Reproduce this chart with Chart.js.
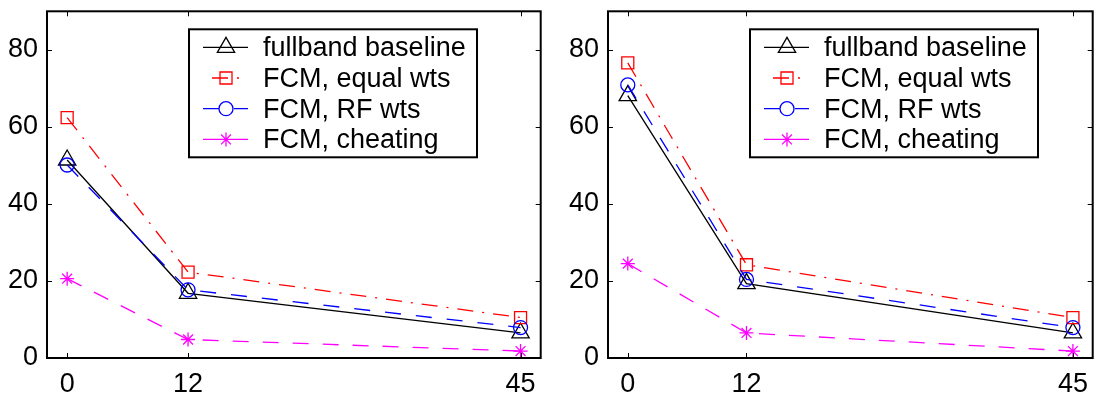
<!DOCTYPE html>
<html>
<head>
<meta charset="utf-8">
<script src="https://cdn.jsdelivr.net/npm/chart.js@4.4.1/dist/chart.umd.min.js"></script>
<style>
  html, body { margin: 0; padding: 0; background: #fff; }
  #wrap { position: relative; width: 1104px; height: 394px; }
  .panel { position: absolute; top: 0; width: 552px; height: 394px; }
</style>
</head>
<body>
<div id="wrap">
  <div class="panel" style="left:0"><canvas id="leftChart" width="552" height="394"></canvas></div>
  <div class="panel" style="left:552px"><canvas id="rightChart" width="552" height="394"></canvas></div>
</div>
<script>
// x positions and tick labels
const delays = [0, 12, 45];
const xTicks = [0, 12, 45];
const yTicks = [0, 20, 40, 60, 80];

const seriesNames = ['fullband baseline', 'FCM, equal wts', 'FCM, RF wts', 'FCM, cheating'];

// left panel
const leftBaseline = [51.4, 16.8, 6.5];
const leftEqual = [62.4, 22.3, 10.5];
const leftRF = [50.1, 17.7, 7.9];
const leftCheat = [20.6, 4.8, 1.8];

// right panel
const rightBaseline = [68.1, 19.3, 6.5];
const rightEqual = [76.6, 24.2, 10.5];
const rightRF = [70.9, 20.4, 7.9];
const rightCheat = [24.5, 6.5, 1.8];

const styles = [
  { color: '#000000', dash: [], point: 'triangle', r: 10, order: 4 },
  { color: '#ff0000', dash: [16, 9, 2, 9], point: 'rect', r: 8.5, order: 3 },
  { color: '#0000ff', dash: [16, 15], point: 'circle', r: 7, order: 2 },
  { color: '#ff00ff', dash: [16, 14], point: 'star', r: 7, order: 1 }
];

const tickFont = { family: '"Liberation Sans", Arial, sans-serif', size: 27 };

// box round the axes, ticks pointing inward on all four sides
const matlabAxes = {
  id: 'matlabAxes',
  afterDatasetsDraw(chart) {
    const { ctx, chartArea: a, scales: { x, y } } = chart;
    ctx.save();
    ctx.strokeStyle = '#000';
    ctx.lineWidth = 1;
    ctx.beginPath();
    x.ticks.forEach(t => {
      const px = Math.round(x.getPixelForValue(t.value)) + 0.5;
      ctx.moveTo(px, a.bottom); ctx.lineTo(px, a.bottom - 5);
      ctx.moveTo(px, a.top); ctx.lineTo(px, a.top + 5);
    });
    y.ticks.forEach(t => {
      const py = Math.round(y.getPixelForValue(t.value)) + 0.5;
      ctx.moveTo(a.left, py); ctx.lineTo(a.left + 5, py);
      ctx.moveTo(a.right, py); ctx.lineTo(a.right - 5, py);
    });
    ctx.stroke();
    ctx.lineWidth = 2;
    ctx.strokeRect(a.left, a.top, a.right - a.left, a.bottom - a.top);
    ctx.restore();
  }
};

// matlab style legend: line sample with marker in the middle
const legendBox = {
  id: 'legendBox',
  afterDraw(chart, args, opts) {
    const { ctx, chartArea } = chart;
    const x0 = chartArea.left + opts.left;
    const y0 = chartArea.top + opts.top;
    ctx.save();
    ctx.fillStyle = '#fff';
    ctx.fillRect(x0, y0, opts.width, opts.height);
    ctx.lineWidth = 2;
    ctx.strokeStyle = '#000';
    ctx.strokeRect(x0, y0, opts.width, opts.height);
    ctx.font = '27px "Liberation Sans", Arial, sans-serif';
    ctx.textBaseline = 'alphabetic';
    chart.data.datasets.forEach((ds, i) => {
      const y = y0 + 18 + i * 30.7;
      ctx.strokeStyle = ds.borderColor;
      ctx.lineWidth = ds.borderWidth;
      ctx.setLineDash(ds.borderDash);
      ctx.lineDashOffset = ds.borderDash.length > 2 ? 27 : 0;
      ctx.beginPath();
      ctx.moveTo(x0 + 14, y);
      ctx.lineTo(x0 + 59, y);
      ctx.stroke();
      ctx.setLineDash([]);
      ctx.lineDashOffset = 0;
      ctx.fillStyle = 'rgba(0,0,0,0)';
      Chart.helpers.drawPoint(ctx, {
        pointStyle: ds.pointStyle, radius: ds.pointRadius, rotation: 0, borderWidth: ds.pointBorderWidth
      }, x0 + 37, y);
      ctx.fillStyle = '#000';
      ctx.fillText(ds.label, x0 + 74, y + 9);
    });
    ctx.restore();
  }
};

function makeChart(id, series, yWidth, padRight) {
  return new Chart(document.getElementById(id), {
    type: 'line',
    data: {
      datasets: series.map((vals, i) => ({
        label: seriesNames[i],
        data: delays.map((d, j) => ({ x: d, y: vals[j] })),
        borderColor: styles[i].color,
        borderWidth: 1.3,
        borderDash: styles[i].dash,
        pointStyle: styles[i].point,
        pointRadius: styles[i].r,
        pointBorderWidth: 1.3,
        pointBorderColor: styles[i].color,
        pointBackgroundColor: 'rgba(0,0,0,0)',
        tension: 0,
        fill: false,
        clip: false,
        order: styles[i].order
      }))
    },
    options: {
      responsive: false,
      animation: false,
      layout: { padding: { top: 11, right: padRight, left: 0, bottom: 0 } },
      plugins: {
        legend: { display: false },
        tooltip: { enabled: false },
        legendBox: { left: 142, top: 18, width: 288, height: 128 }
      },
      scales: {
        x: {
          type: 'linear',
          min: -2,
          max: 47,
          grid: { display: false, drawTicks: false },
          border: { display: false },
          ticks: { font: tickFont, color: '#000', padding: 10, maxRotation: 0, autoSkip: false },
          afterBuildTicks: s => { s.ticks = xTicks.map(v => ({ value: v })); },
          afterFit: s => { s.height = 36; s.paddingLeft = 0; s.paddingRight = 0; }
        },
        y: {
          type: 'linear',
          min: 0,
          max: 90,
          grid: { display: false, drawTicks: false },
          border: { display: false },
          ticks: { font: tickFont, color: '#000', padding: 9 },
          afterBuildTicks: s => { s.ticks = yTicks.map(v => ({ value: v })); },
          afterFit: s => { s.width = yWidth; s.paddingTop = 0; s.paddingBottom = 0; }
        }
      }
    },
    plugins: [matlabAxes, legendBox]
  });
}

makeChart('leftChart', [leftBaseline, leftEqual, leftRF, leftCheat], 47, 9);
makeChart('rightChart', [rightBaseline, rightEqual, rightRF, rightCheat], 56, 2);
</script>
</body>
</html>
